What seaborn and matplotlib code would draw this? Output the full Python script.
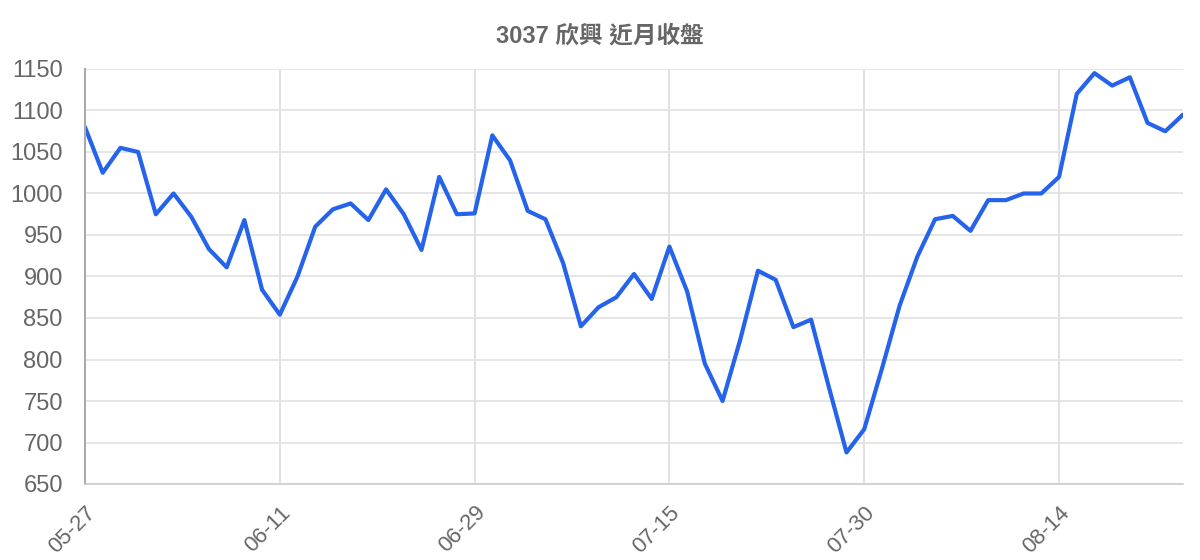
import pandas as pd
import seaborn as sns
import matplotlib.pyplot as plt

# Closing prices
close = [
    1080, 1025, 1055, 1050, 975, 1000, 972, 933, 911, 968,
    884, 854, 900, 960, 981, 988, 968, 1005, 975, 932,
    1020, 975, 976, 1070, 1040, 979, 969, 916, 840, 863,
    875, 903, 873, 936, 882, 795, 750, 824, 907, 896,
    839, 848, 767, 688, 716, 789, 865, 924, 969, 973,
    955, 992, 992, 1000, 1000, 1020, 1120, 1145, 1130, 1140,
    1085, 1075, 1095,
]
tick_pos = [0, 11, 22, 33, 44, 55]
tick_labels = ["05-27", "06-11", "06-29", "07-15", "07-30", "08-14"]
y_ticks = list(range(650, 1151, 50))

df = pd.DataFrame({"idx": range(len(close)), "close": close})

sns.set_style("white")
plt.rcParams["font.family"] = ["Liberation Sans", "Noto Sans CJK TC", "DejaVu Sans"]

fig = plt.figure(figsize=(12, 5.6), dpi=100)
ax = fig.add_axes([85 / 1200, 1 - 484 / 560, (1183 - 85) / 1200, (484 - 69) / 560])

sns.lineplot(data=df, x="idx", y="close", ax=ax, color="#2563eb", linewidth=3)

ax.set_xlim(0, len(close) - 1)
ax.set_ylim(650, 1150)
ax.set_yticks(y_ticks)
ax.set_xticks(tick_pos)
ax.set_xticklabels(tick_labels, rotation=45, ha="right", va="top", rotation_mode="anchor")
ax.set_xlabel("")
ax.set_ylabel("")

# Grid and ticks
ax.grid(True, axis="y", color="#e2e2e2", linewidth=1.2)
ax.grid(True, axis="x", color="#dcdcdc", linewidth=1.2)
ax.set_axisbelow(True)
ax.tick_params(axis="y", length=14, width=1.2, color="#e2e2e2", pad=2,
               labelsize=17, labelcolor="#666666")
ax.tick_params(axis="x", length=12, width=1.2, color="#dcdcdc", pad=1,
               labelsize=16, labelcolor="#666666")

for side in ["top", "right"]:
    ax.spines[side].set_visible(False)
ax.spines["left"].set_color("#aaaaaa")
ax.spines["left"].set_linewidth(1.5)
ax.spines["bottom"].set_color("#cccccc")
ax.spines["bottom"].set_linewidth(1.2)

fig.text(0.5, 1 - 36 / 560, "3037 欣興 近月收盤", ha="center", va="center",
         fontsize=17, fontweight="bold", color="#666666")

fig.savefig("out.png", dpi=100)
